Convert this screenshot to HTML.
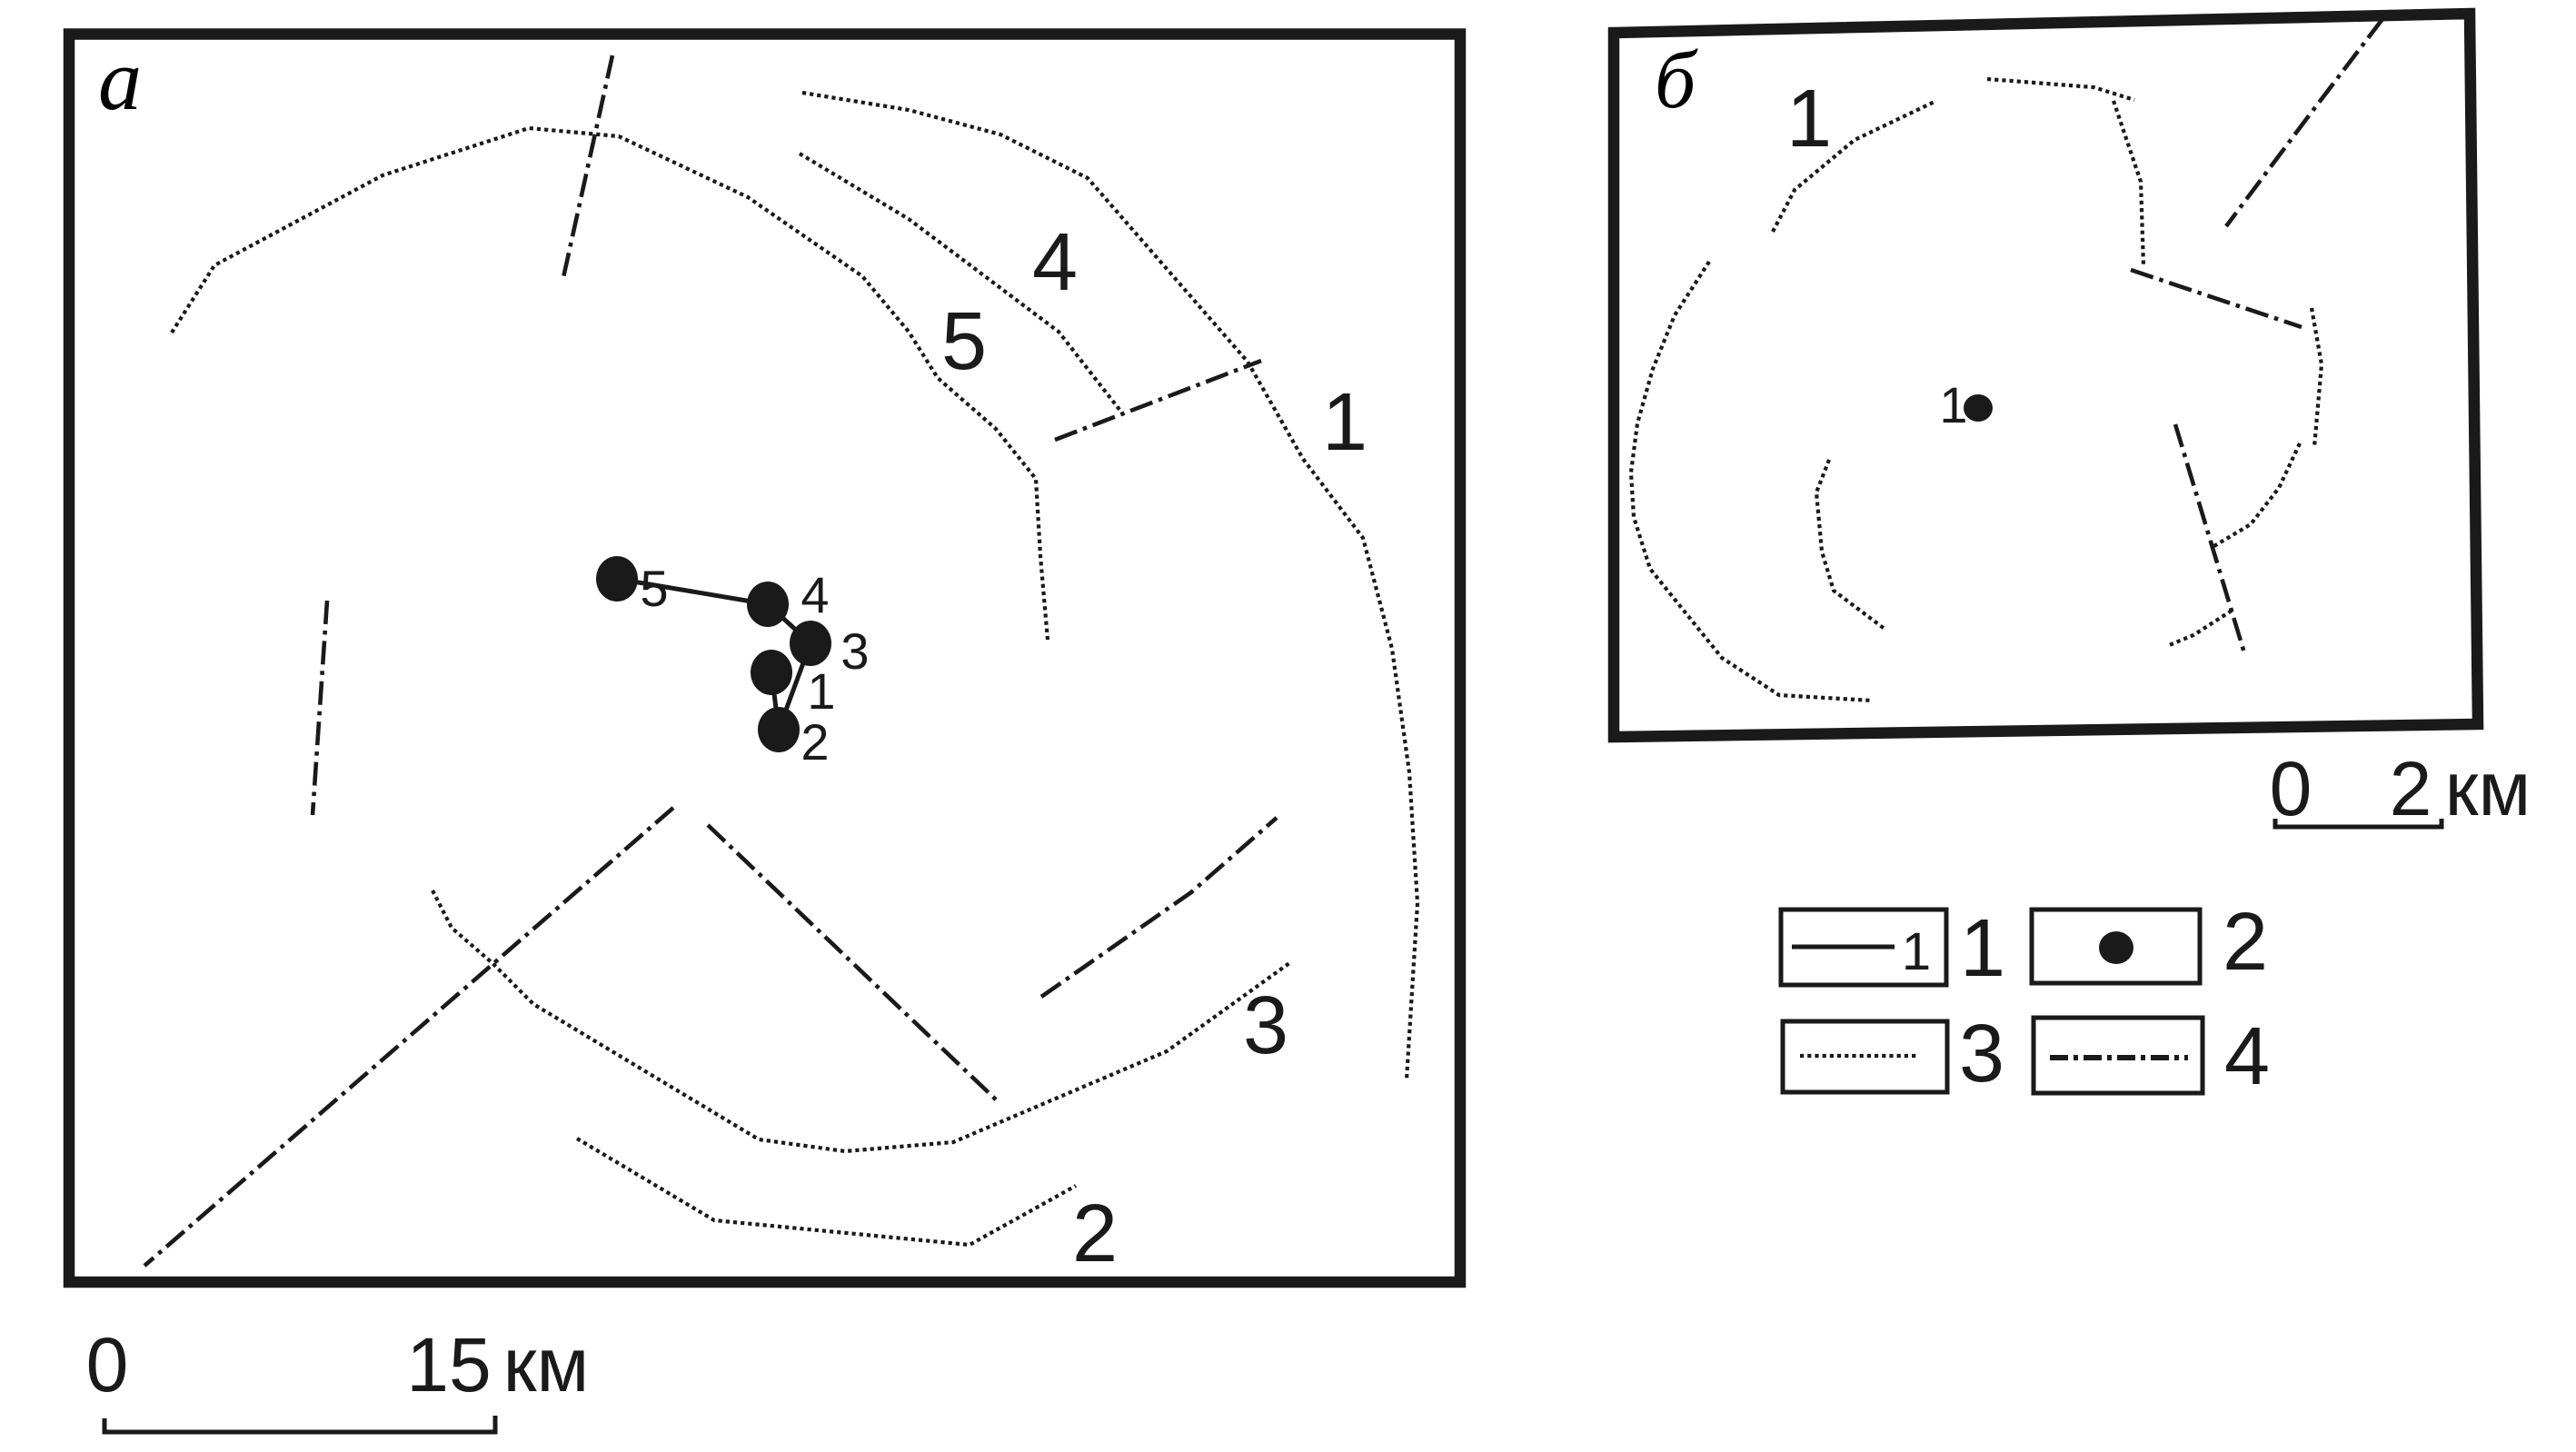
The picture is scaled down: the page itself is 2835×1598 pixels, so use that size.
<!DOCTYPE html>
<html lang="ru">
<head>
<meta charset="utf-8">
<title>Схема</title>
<style>
html,body{margin:0;padding:0;background:#fff;width:2835px;height:1598px;overflow:hidden}
svg{display:block}
.d{fill:none;stroke:#1a1a1a;stroke-width:4.2;stroke-dasharray:4.2 4}
.c{fill:none;stroke:#1a1a1a;stroke-width:4.6;stroke-dasharray:26 7 4.5 7}
.f{fill:none;stroke:#1a1a1a;stroke-width:12.5}
.l{fill:none;stroke:#1a1a1a;stroke-width:5}
.b{fill:none;stroke:#1a1a1a;stroke-width:5}
text{font-family:"Liberation Sans",sans-serif;fill:#1a1a1a;text-anchor:middle}
.s{font-size:56px}
.m{font-size:90px}
.k{font-size:84px}
.i{font-family:"Liberation Serif","Noto Serif CJK SC",serif;font-style:italic;font-size:96px;fill:#000;text-anchor:start}
circle,ellipse{fill:#1a1a1a}
</style>
</head>
<body>
<svg width="2835" height="1598" viewBox="0 0 2835 1598" xmlns="http://www.w3.org/2000/svg">
<!-- Panel a -->
<rect class="f" x="76" y="37.5" width="1531" height="1373.5"/>
<text class="i" x="108" y="120">a</text>

<polyline class="d" points="189,366 236,292 421,193 582,141 681,150 823,217 949,304 1000,365 1032,416 1096,472 1140,527 1145,612 1153,704"/>
<polyline class="d" points="880,169 1000,241 1165,365 1233,452"/>
<polyline class="d" points="883,102 1000,121 1101,148 1197,196 1373,398 1434,505 1500,592 1532,714 1551,850 1560,994 1548,1188"/>
<polyline class="d" points="476,980 497,1021 542,1060 587,1105 835,1254 930,1267 1049,1257 1284,1157 1419,1060"/>
<polyline class="d" points="635,1253 786,1343 1067,1370 1184,1305"/>

<line class="c" x1="674" y1="61" x2="619" y2="310"/>
<line class="c" x1="360" y1="661" x2="344" y2="897"/>
<line class="c" x1="741" y1="889" x2="159" y2="1393"/>
<line class="c" x1="779" y1="908" x2="1099" y2="1213"/>
<polyline class="c" points="1146,1097 1311,982 1405,900"/>
<line class="c" x1="1161" y1="484" x2="1388" y2="397"/>

<polyline class="l" points="679,637 845,665 892,708 857,803 849,740"/>
<ellipse cx="679" cy="637" rx="23" ry="25"/>
<ellipse cx="845" cy="665" rx="23" ry="25"/>
<ellipse cx="892" cy="708" rx="23" ry="25"/>
<ellipse cx="849" cy="740" rx="23" ry="25"/>
<ellipse cx="857" cy="803" rx="23" ry="25"/>
<text class="s" x="720" y="667">5</text>
<text class="s" x="897" y="674">4</text>
<text class="s" x="941" y="736">3</text>
<text class="s" x="904" y="780">1</text>
<text class="s" x="897" y="836">2</text>

<text class="m" x="1161" y="319">4</text>
<text class="m" x="1061" y="406">5</text>
<text class="m" x="1480" y="495">1</text>
<text class="m" x="1393" y="1159">3</text>
<text class="m" x="1205" y="1388">2</text>

<!-- Scale a -->
<text class="k" x="118" y="1531">0</text>
<text class="k" x="494" y="1531">15</text>
<text class="k" x="601" y="1531">км</text>
<polyline class="b" points="115,1561 115,1576 545,1576 545,1558"/>

<!-- Panel б -->
<polygon class="f" points="1776,36 2718,15 2727,797 1776,811"/>
<text class="i" x="1821" y="118" style="font-size:90px">б</text>
<text class="m" x="1991" y="161">1</text>
<text class="s" x="2150" y="465">1</text>
<ellipse cx="2177" cy="449" rx="16" ry="15"/>

<polyline class="d" points="1951,255 1975,209 2041,154 2131,111"/>
<polyline class="d" points="2187,87 2304,96 2349,110"/>
<polyline class="d" points="2326,111 2356,200 2359,293"/>
<polyline class="d" points="2544,339 2555,401 2547,492"/>
<polyline class="d" points="2531,488 2508,537 2477,577 2435,602"/>
<polyline class="d" points="2456,672 2414,699 2385,711"/>
<polyline class="d" points="2013,506 1999,542 2005,607 2018,650 2074,692"/>
<polyline class="d" points="1881,288 1843,347 1819,406 1802,466 1795,520 1798,569 1816,626 1895,724 1958,765 2061,771"/>

<polyline class="c" points="2622,21 2539,130 2450,249"/>
<line class="c" x1="2345" y1="297" x2="2533" y2="360"/>
<line class="c" x1="2394" y1="467" x2="2471" y2="722"/>

<!-- Scale б -->
<text class="k" x="2521" y="897">0</text>
<text class="k" x="2653" y="897">2</text>
<text class="k" x="2738" y="897">км</text>
<polyline class="b" points="2504,901 2504,910 2687,910 2687,901"/>

<!-- Legend -->
<rect class="l" x="1960" y="1001" width="182" height="83"/>
<line class="l" x1="1972" y1="1042" x2="2085" y2="1042"/>
<text x="2109" y="1067" style="font-size:58px">1</text>
<text class="m" x="2182" y="1074">1</text>

<rect class="l" x="2236" y="1001" width="185" height="81"/>
<ellipse cx="2329" cy="1043" rx="19" ry="18"/>
<text class="m" x="2471" y="1067">2</text>

<rect class="l" x="1962" y="1124" width="181" height="78"/>
<line class="d" x1="1981" y1="1162" x2="2112" y2="1162"/>
<text class="m" x="2181" y="1190">3</text>

<rect class="l" x="2238" y="1120" width="186" height="83"/>
<line class="c" x1="2256" y1="1164" x2="2408" y2="1164" style="stroke-width:6;stroke-dasharray:20 6 5 6"/>
<text class="m" x="2473" y="1193">4</text>
</svg>
</body>
</html>
